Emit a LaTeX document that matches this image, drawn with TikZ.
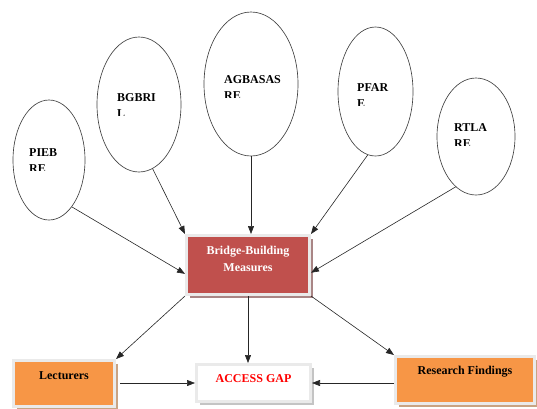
\documentclass[tikz,border=0pt]{standalone}
\usepackage{fontspec}
\setmainfont{Liberation Serif}
\usetikzlibrary{shapes.geometric, arrows.meta, shadows}

\definecolor{bbred}{HTML}{C0504D}
\definecolor{bborange}{HTML}{F79646}
\definecolor{bbframe}{HTML}{EAEAEA}
\definecolor{redshade}{HTML}{A98585}
\definecolor{orangeshade}{HTML}{C9A383}
\definecolor{grayshade}{HTML}{C4C4C4}

\begin{document}
\begin{tikzpicture}[ x = 1pt, y = -1pt,
        oval/.style = { ellipse, draw = black!75, line width = 0.65pt, inner sep = 0 },
        ovaltext/.style = { font = \bfseries\fontsize{12}{16}\selectfont, align = left, anchor = north west, inner sep = 0 },
        block/.style = { rectangle, draw = bbframe, line width = 3pt, font = \bfseries\fontsize{12}{17}\selectfont, align = center },
        shade/.style = { drop shadow = {shadow xshift=3pt,shadow yshift=-3pt,fill=#1,opacity=1} },
        arr/.style = { draw = black!85, line width = 0.6pt, -{Triangle[ length = 8pt, width = 6pt ]} } ]
        \useasboundingbox ( 0, 0 ) rectangle ( 537, 408 );

        % овалы
        \node [ oval, minimum width = 72, minimum height = 120 ] (pieb) at ( 49, 160 ) {};
        \node [ oval, minimum width = 84, minimum height = 135 ] (bgbri) at ( 139, 104.5 ) {};
        \node [ oval, minimum width = 94, minimum height = 144 ] (agbasas) at ( 251, 84 ) {};
        \node [ oval, minimum width = 75, minimum height = 129 ] (pfare) at ( 375.5, 91.5 ) {};
        \node [ oval, minimum width = 78, minimum height = 117 ] (rtla) at ( 476, 136.5 ) {};

        % подписи овалов (вторая строка обрезана)
        \begin{scope}
            \clip ( 0, 0 ) rectangle ( 100, 170 );
            \node [ ovaltext ] (pieb-t) at ( 29, 148 ) {PIEB\\RE};
        \end{scope}
        \begin{scope}
            \clip ( 100, 0 ) rectangle ( 200, 115 );
            \node [ ovaltext ] (bgbri-t) at ( 117, 93 ) {BGBRI\\L};
        \end{scope}
        \begin{scope}
            \clip ( 200, 0 ) rectangle ( 320, 97 );
            \node [ ovaltext ] (agbasas-t) at ( 224, 75 ) {AGBASAS\\RE};
        \end{scope}
        \begin{scope}
            \clip ( 330, 0 ) rectangle ( 430, 105 );
            \node [ ovaltext ] (pfare-t) at ( 357, 83 ) {PFAR\\E};
        \end{scope}
        \begin{scope}
            \clip ( 430, 0 ) rectangle ( 537, 145 );
            \node [ ovaltext ] (rtla-t) at ( 454, 123 ) {RTLA\\RE};
        \end{scope}

        % центральный блок
        \node [ block, fill = bbred, text = white, minimum width = 123, minimum height = 59, text depth = 13pt, shade = redshade ]
            (bridge) at ( 248, 265 ) {Bridge-Building\\Measures};

        % нижние блоки
        \node [ block, fill = bborange, minimum width = 101, minimum height = 46, text depth = 15pt, shade = orangeshade ]
            (lecturers) at ( 64, 383.5 ) {Lecturers};
        \node [ block, fill = white, text = red, minimum width = 114, minimum height = 37, text depth = 8pt, shade = grayshade ]
            (gap) at ( 253.5, 383 ) {ACCESS GAP};
        \node [ block, fill = bborange, minimum width = 139, minimum height = 47, text depth = 18.5pt, shade = orangeshade ]
            (findings) at ( 465, 380 ) {Research Findings};

        % стрелки к центральному блоку
        \draw [ arr ] (pieb.-64) -- (bridge.188);
        \draw [ arr ] (bgbri.-78) -- (bridge.north west);
        \draw [ arr ] (agbasas.south) -- (agbasas.south |- bridge.north);
        \draw [ arr ] (pfare.-97) -- (bridge.north east);
        \draw [ arr ] (rtla.-112) -- (bridge.-7);

        % стрелки от центрального блока
        \draw [ arr ] (bridge.south west) -- (lecturers.north east);
        \draw [ arr ] (bridge.south) -- (bridge.south |- gap.north);
        \draw [ arr ] (bridge.south east) -- (findings.north west);

        % стрелки к ACCESS GAP
        \draw [ arr, shorten < = 4pt ] (gap.west -| lecturers.east) -- (gap.west);
        \draw [ arr ] (gap.east -| findings.west) -- (gap.east);
    \end{tikzpicture}
\end{document}
